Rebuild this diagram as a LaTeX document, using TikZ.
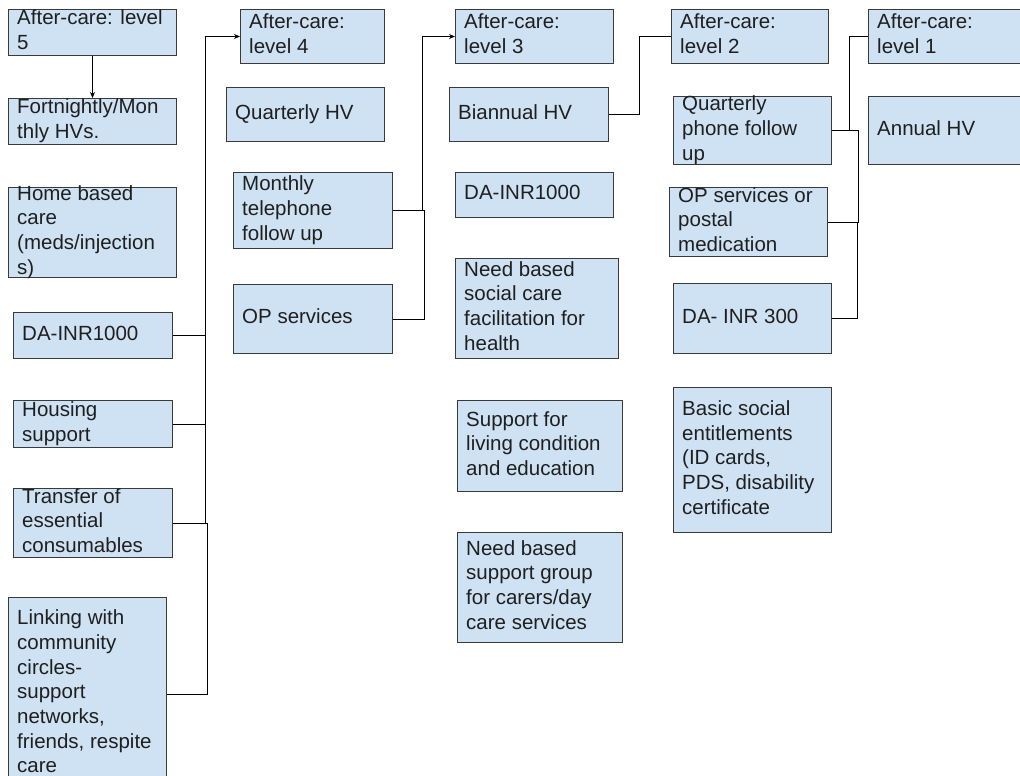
\documentclass[tikz,border=0pt]{standalone}
\usepackage{fontspec}
\setmainfont{Liberation Sans}
\usetikzlibrary{arrows.meta}

\definecolor{boxfill}{HTML}{CFE2F3}
\definecolor{boxline}{HTML}{3A3A3A}
\definecolor{inkcol}{HTML}{1F1F1F}

% one strut per text line: fixed line height, so the block centres evenly
\newcommand{\sk}{\rule[-5.25pt]{0pt}{19.45pt}}

% \abox{name}{x1}{y1}{x2}{y2}{text}: a filled box with left-set, vertically centred text
\newcommand{\abox}[6]{%
  \node[cell, minimum width={(#4-#2)*1pt}, minimum height={(#5-#3)*1pt},
        anchor=north west] (#1) at (#2,#3) {};
  \node[lbl, anchor=west] (#1t) at ([xshift=9pt]#1.west) {#6};}

\begin{document}
\begin{tikzpicture}[x=1pt, y=-1pt,
  cell/.style={draw=boxline, fill=boxfill, line width=1pt, inner sep=0pt, rectangle},
  lbl/.style={inner sep=0pt, align=left, text=inkcol,
              font=\fontsize{20.5pt}{24.7pt}\selectfont},
  link/.style={draw=black, line width=0.9pt},
  arr/.style={link, -{Stealth[length=6pt, width=5pt]}}]
\useasboundingbox[fill=white] (0,0) rectangle (1020,776);

% level 5 column
\abox{lv5}{8}{9}{176}{55}{\sk After-care: level\\\sk 5}
\abox{fort}{8}{98}{176}{144}{\sk Fortnightly/Mon\\\sk thly HVs.}
\abox{home}{8}{187}{176}{277}{\sk Home based\\\sk care\\\sk (meds/injection\\\sk s)}
\abox{daa}{13}{312}{172}{358}{\sk DA-INR1000}
\abox{hous}{13}{400}{172}{447}{\sk Housing\\\sk support}
\abox{trans}{13}{488}{172}{557}{\sk Transfer of\\\sk essential\\\sk consumables}
\abox{link}{8}{597}{166}{790}{\sk Linking with\\\sk community\\\sk circles-\\\sk support\\\sk networks,\\\sk friends, respite\\\sk care}

% level 4 column
\abox{lv4}{240}{9}{384}{63}{\sk After-care:\\\sk level 4}
\abox{qhv}{226}{87}{384}{141}{\sk Quarterly HV}
\abox{mtel}{233}{172}{392}{248}{\sk Monthly\\\sk telephone\\\sk follow up}
\abox{opa}{233}{284}{392}{353}{\sk OP services}

% level 3 column
\abox{lv3}{455}{9}{613}{63}{\sk After-care:\\\sk level 3}
\abox{bhv}{449}{87}{608}{141}{\sk Biannual HV}
\abox{dab}{455}{172}{613}{217}{\sk DA-INR1000}
\abox{soc}{455}{258}{618}{358}{\sk Need based\\\sk social care\\\sk facilitation for\\\sk health}
\abox{liv}{457}{400}{622}{491}{\sk Support for\\\sk living condition\\\sk and education}
\abox{grp}{457}{532}{622}{642}{\sk Need based\\\sk support group\\\sk for carers/day\\\sk care services}

% level 2 column
\abox{lv2}{671}{9}{828}{63}{\sk After-care:\\\sk level 2}
\abox{qph}{673}{96}{831}{164}{\sk Quarterly\\\sk phone follow\\\sk up}
\abox{opp}{669}{187}{827}{256}{\sk OP services or\\\sk postal\\\sk medication}
\abox{dac}{673}{283}{831}{353}{\sk DA- INR 300}
\abox{ent}{673}{387}{831}{532}{\sk Basic social\\\sk entitlements\\\sk (ID cards,\\\sk PDS, disability\\\sk certificate}

% level 1 column
\abox{lv1}{868}{9}{1030}{63}{\sk After-care:\\\sk level 1}
\abox{ahv}{868}{96}{1030}{164}{\sk Annual HV}

% vertical rails of the elbow connectors
\coordinate (r1) at (205,0);
\coordinate (r1b) at (207,0);
\coordinate (r2) at (422,0);
\coordinate (r2b) at (424,0);
\coordinate (r3) at (639,0);
\coordinate (r4) at (849,0);
\coordinate (r4b) at (858,0);
\coordinate (r4c) at (857,0);

\draw[arr] (lv5) -- (fort);

\draw[arr] (daa.east) -- (daa.east -| r1) |- (lv4.west);
\draw[link] (hous.east) -| (daa.east -| r1);
\draw[link] (trans.east) -| (hous.east -| r1);
\draw[link] (link.east) -| (trans.east -| r1b) -- (trans.east -| r1);

\draw[arr] (mtel.east) -- (mtel.east -| r2) |- (lv3.west);
\draw[link] (opa.east) -| (mtel.east -| r2b) -- (mtel.east -| r2);

\draw[link] (bhv.east) -- (bhv.east -| r3) |- (lv2.west);

\draw[link] (qph.east) -- (qph.east -| r4) |- (lv1.west);
\draw[link] (opp.east) -| (qph.east -| r4b) -- (qph.east);
\draw[link] (dac.east) -| (opp.east -| r4c);
\end{tikzpicture}
\end{document}
